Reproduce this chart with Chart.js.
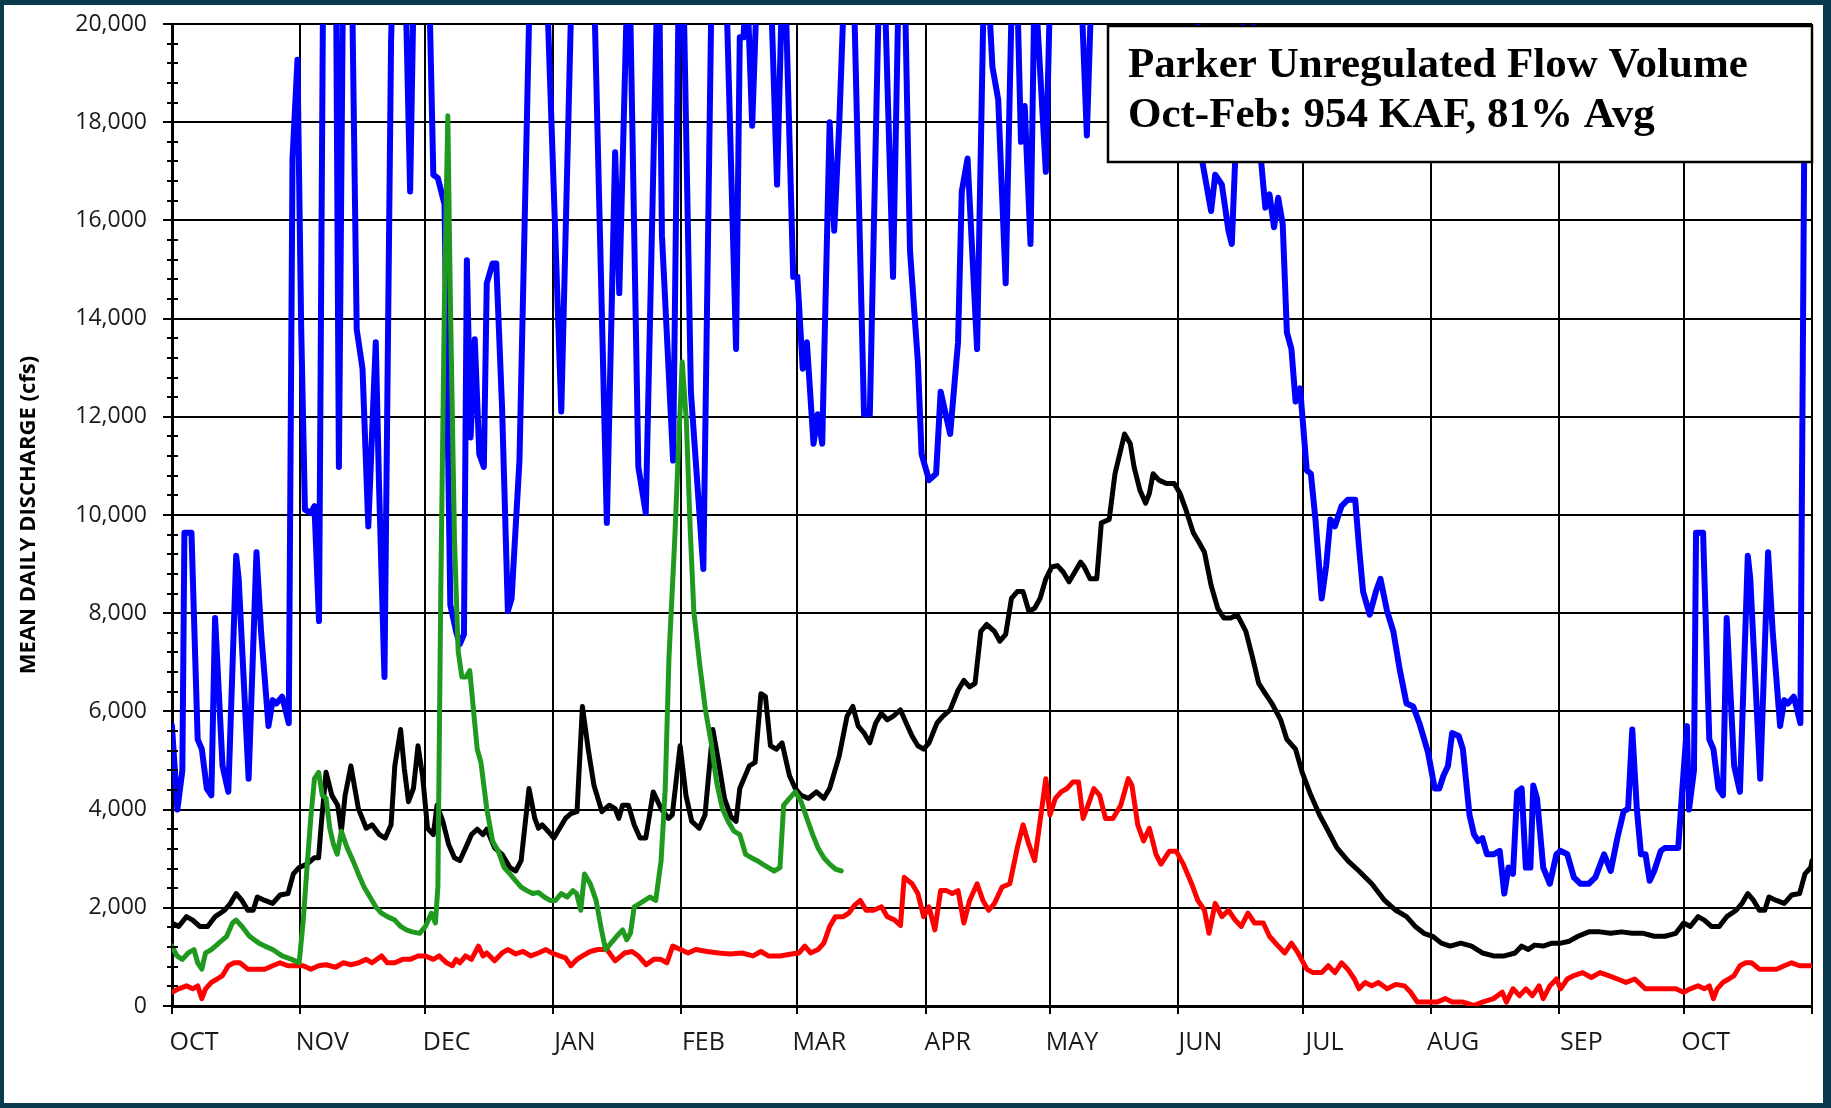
<!DOCTYPE html>
<html>
<head>
<meta charset="utf-8">
<title>Parker Unregulated Flow</title>
<script src="https://cdn.jsdelivr.net/npm/chart.js@4/dist/chart.umd.min.js"></script>
<style>
  html, body { margin: 0; padding: 0; background: #0b3a4e; overflow: hidden; }
  #panel { position: absolute; left: 4px; top: 5px; width: 1819px; height: 1098px; background: #fff; }
  #chart { position: absolute; left: 0; top: 0; }
</style>
</head>
<body>
<div id="panel"></div>
<canvas id="chart" width="1831" height="1108"></canvas>
<script>
// x = days since Oct 1, y = mean daily discharge (cfs)
const monthStarts = [0, 31, 61, 92, 123, 151, 182, 212, 243, 273, 304, 335, 365, 396];
const monthLabels = ['OCT', 'NOV', 'DEC', 'JAN', 'FEB', 'MAR', 'APR', 'MAY', 'JUN', 'JUL', 'AUG', 'SEP', 'OCT', ''];

// blue: maximum of record
const maxDay = [0, 1.3, 2.5, 3, 4.7, 6.2, 7.2, 8.4, 9.5, 10.4, 12.2, 13.6, 15.5, 16.1, 18.5, 20.4, 21.5, 23.3, 24.3, 25.2, 26.6, 27.2, 28.2, 29.1, 30.3,
  31.2, 32.1, 33.5, 34.4, 35.5, 36.8, 38.2, 39.4, 40.3, 41.6, 42.8, 44.6, 46, 47.4, 49.2, 50, 51.3, 52.9, 55, 57.5, 58.4, 60.5, 63.1, 64.2, 65.8,
  67.2, 68.6, 69.5, 70.5, 71.2, 72.1, 73.1, 74.2, 75.3, 76, 77.4, 78.3, 79.7, 81.1, 82, 83.9, 88, 94, 98, 101, 105, 107, 108, 110.3, 112.6, 114.4,
  117.5, 118.3, 121, 122.8, 125.3, 128.3, 131.5, 136.2, 137.1, 138, 138.8, 140.1, 143, 146.1, 147.7, 150, 151, 152.3, 153.3, 154.9, 155.9, 157,
  158.8, 159.9, 161.1, 163.7, 167.1, 168.5, 171.3, 174.1, 176.2, 178.2, 180.1, 181, 182.8, 184.5, 185.6, 187.9, 189.8, 190.7, 192.1, 194.4, 196.3,
  198.1, 199.5, 201.3, 203.4, 205, 205.9, 207.3, 208.3, 209.2, 211, 213.5, 215.5, 217.5, 219.4, 220.9, 224, 230, 236, 242, 247, 248.8, 250.9,
  251.9, 253.5, 255.1, 255.9, 256.7, 258, 260, 262, 263, 264, 265, 266.1, 267.1, 268.2, 269.2, 270.3, 271.3, 272.4, 274, 275, 276.1, 277.6,
  278.7, 279.7, 280.8, 282.4, 283.9, 285.7, 286.6, 287.6, 289.2, 290.7, 291.8, 293.4, 294.9, 296.5, 298.1, 299.7, 301.2, 303.3, 304.9, 306, 307,
  308.1, 309.1, 310.7, 311.7, 313.3, 314.4, 315.4, 316.4, 317.5, 319.1, 320.6, 321.7, 322.7, 323.8, 324.8, 325.9, 326.9, 328, 328.7, 329.6, 331.1,
  332.7, 334.3, 335.3, 336.9, 338.5, 340.1, 342.1, 343.7, 345.8, 347.4, 349, 350.5, 351.6, 352.6, 353.7, 354.7, 355.8, 356.8, 357.9, 359.5, 360.5,
  363.7, 364.7, 365.8, 366.3, 367.5, 368, 369.7, 371.2, 372.2, 373.4, 374.5, 375.4, 377.2, 378.6, 380.5, 381.1, 383.5, 385.4, 386.5, 388.3, 389.3,
  390.2, 391.6, 392.2, 393.2, 394.1, 395.4];
const maxCfs = [5700, 4000, 4800, 9640, 9640, 5430, 5230, 4430, 4290, 7900, 4890, 4360, 9170, 8700, 4630, 9240, 7630, 5700, 6230, 6160, 6300, 6100, 5760, 17260, 19270,
  13780, 10110, 10040, 10180, 7840, 25000, 23000, 24000, 10980, 24000, 25000, 13780, 12980, 9770, 13520, 10580, 6700, 19670, 26000, 16590, 21000, 27000, 16930, 16860, 16330,
  8170, 7630, 7370, 7570, 15190, 11580, 13580, 11240, 10980, 14720, 15120, 15120, 12180, 8040, 8300, 11110, 27000, 12110, 26000, 24000, 9840, 17390, 14520, 22000, 10980, 10040,
  22000, 15700, 11110, 24000, 12500, 8900, 28000, 13380, 19730, 19730, 21000, 17930, 25000, 16730, 22000, 14850, 14850, 12980, 13520, 11450, 12050, 11450,
  18000, 15790, 17930, 24000, 12050, 12050, 23000, 14850, 24000, 15390, 13120, 11240, 10710, 10840, 12510, 11650, 13520, 16590, 17260, 13380, 22000,
  19130, 18460, 14720, 23000, 17600, 18330, 15520, 21000, 19670, 16990, 26000, 21500, 25000, 21000, 17730, 26000, 28000, 30000, 27000, 22000, 17190, 16190,
  16930, 16730, 15790, 15520, 17190, 19500, 21000, 19000, 17190, 16260, 16530, 15860, 16460, 15920, 13720, 13380, 12310, 12580, 10910, 10840, 9910, 8300,
  8970, 9910, 9770, 10180, 10310, 10310, 9370, 8440, 7970, 8440, 8700, 8040, 7630, 6830, 6160, 6100, 5760, 5160, 4430, 4430, 4690,
  4890, 5560, 5500, 5230, 3890, 3490, 3360, 3420, 3090, 3090, 3160, 2290, 2820, 2690, 4360, 4430, 2820, 2820, 4490, 4230, 2820,
  2490, 3090, 3160, 3090, 2620, 2490, 2490, 2620, 3090, 2750, 3420, 3960, 4020, 5630, 4020, 3090, 3090, 2550, 2750, 3160, 3220,
  3220, 4430, 5700, 4000, 4800, 9640, 9640, 5430, 5230, 4430, 4290, 7900, 4890, 4360, 9170, 8700, 4630, 9240, 7630, 5700, 6230,
  6160, 6300, 6100, 5760, 17260, 19270];

// black: average
const avgDay = [0, 1.6, 3.5, 5, 6.7, 8.6, 10.4, 12.7, 14.1, 15.5, 16.9, 18.3, 19.6, 20.6, 22.4, 24.3, 26.1, 28, 29.3, 30.7, 32.6, 34.4, 35.4, 36.1, 37.2,
  38.6, 40, 40.9, 41.8, 43.2, 45, 46.9, 48.3, 50.1, 51.5, 52.9, 53.8, 55.2, 56.1, 57.1, 58.3, 59.4, 60.5, 61.7, 63.1, 64, 65.4, 66.8, 68.2, 69.5,
  70.9, 72.3, 73.7, 75.1, 76, 77.9, 79.7, 81.6, 83, 84.3, 86.2, 87.6, 88.5, 89.4, 90.8, 92.2, 93.6, 95, 96.3, 97.8, 99.1, 100.5, 101.9, 103.8,
  105.6, 107, 107.9, 108.8, 110.2, 111.6, 113, 114.4, 116.2, 118.1, 119.9, 120.8, 122.7, 124.1, 125.5, 127.3, 128.7, 130.6, 132, 133.4, 135,
  136.2, 137.1, 139.4, 140.8, 142.2, 143.3, 144.5, 145.9, 147.3, 149.1, 150.5, 151.9, 153.7, 155.6, 157.4, 158.8, 161.1, 163, 164.4, 165.7, 167.1,
  168.5, 169.9, 171.3, 172.7, 174.1, 175.9, 177.3, 178.7, 180.1, 181.5, 182.8, 184.7, 186.1, 187.9, 189.8, 191.2, 192.6, 193.9, 195.3, 196.7,
  198.6, 199.9, 201.3, 202.7, 204.1, 205.5, 206.9, 208.3, 209.6, 211, 212.4, 213.8, 215.2, 216.6, 217.5, 219.4, 220.3, 221.7, 223.3, 224.4,
  226.3, 227.7, 230, 231.4, 232.3, 233.7, 235.1, 236, 236.9, 238.3, 240.1, 242, 243.4, 244.8, 246.6, 248, 249.3, 250.9, 252.5, 254, 255.6,
  257.2, 259.3, 260.9, 262.4, 264, 265.6, 267.7, 269.2, 271.3, 272.9, 275, 277.1, 279.2, 281.3, 283.9, 286.6, 289.7, 292.8, 295.5, 298.1,
  300.2, 302.3, 304.4, 306.5, 308.6, 311.2, 313.8, 316.4, 319.1, 321.7, 324.3, 325.9, 327.5, 329, 331.1, 333.2, 335.3, 337.4, 339.5, 342.1,
  344.8, 347.4, 350, 352.6, 355.3, 357.9, 360.5, 363.1, 365, 366.6, 368.5, 370, 371.7, 373.6, 375.4, 377.7, 379.1, 380.5, 381.9, 383.3, 384.6,
  385.6, 387.4, 389.3, 391.1, 393, 394.3, 395.7, 396];
const avgCfs = [1690, 1620, 1820, 1750, 1620, 1620, 1820, 1950, 2090, 2290, 2150, 1950, 1950, 2220, 2150, 2090, 2260, 2290, 2690, 2820, 2890, 3020, 3020, 3760, 4760,
  4290, 4090, 3560, 4290, 4890, 4020, 3620, 3690, 3490, 3420, 3690, 4890, 5630, 4830, 4160, 4430, 5300, 4690, 3620, 3490, 4090, 3760, 3290, 3020, 2960,
  3220, 3490, 3600, 3490, 3600, 3220, 3090, 2820, 2750, 2960, 4430, 3820, 3620, 3690, 3560, 3420, 3620, 3820, 3920, 3960, 6100, 5230, 4490, 3960,
  4090, 4020, 3820, 4090, 4090, 3690, 3420, 3420, 4360, 4020, 3820, 3890, 5300, 4290, 3760, 3620, 3890, 5630, 4960, 4230, 3850,
  3760, 4430, 4890, 4960, 6360, 6300, 5300, 5230, 5360, 4690, 4430, 4290, 4230, 4360, 4230, 4430, 5090, 5900, 6100, 5700, 5560,
  5360, 5760, 5960, 5830, 5900, 6030, 5760, 5500, 5300, 5230, 5360, 5760, 5900, 6030, 6430, 6630, 6500, 6570, 7630, 7770,
  7630, 7430, 7570, 8300, 8440, 8440, 8040, 8100, 8300, 8700, 8940, 8970, 8840, 8640, 8770, 9040, 8940, 8700, 8700, 9840,
  9910, 10840, 11650, 11450, 10980, 10510, 10240, 10440, 10840, 10710, 10640, 10640, 10440, 10110, 9640, 9440, 9240, 8570, 8100, 7900, 7900,
  7970, 7630, 7100, 6570, 6360, 6160, 5830, 5430, 5230, 4760, 4290, 3890, 3560, 3220, 2960, 2750, 2490, 2150, 1950, 1820,
  1620, 1480, 1420, 1280, 1220, 1280, 1220, 1080, 1020, 1020, 1080, 1220, 1150, 1240, 1220, 1280, 1280, 1320, 1420, 1510,
  1510, 1480, 1510, 1480, 1480, 1420, 1420, 1480, 1690, 1620, 1820, 1750, 1620, 1620, 1820, 1950, 2090, 2290, 2150, 1950, 1950,
  2220, 2150, 2090, 2260, 2290, 2690, 2820, 2960];

// red: minimum of record
const minDay = [0, 1.6, 3.5, 5, 6.2, 7.2, 8.1, 9.5, 10.9, 12.2, 13.6, 15, 16.4, 18.3, 20.1, 22.4, 24.3, 26.1, 28, 29.8, 31.7, 33.5, 35.4, 37.2, 39.5,
  41.4, 43.2, 45.1, 46.9, 48.3, 50.6, 52, 53.8, 55.7, 57.5, 59.4, 61.2, 63.1, 64.5, 66.3, 67.7, 68.6, 69.5, 70.9, 72.3, 74, 75.1, 76, 77.9, 79.7,
  81.1, 83, 84.8, 86.6, 88.5, 90.3, 91.7, 93.6, 95, 96.3, 97.8, 99.1, 101, 102.8, 105, 107, 109.3, 111.1, 112.6, 114.5, 116.3, 118, 119.5, 120.9,
  122.8, 124.6, 126.5, 129.2, 132, 134.8, 137.6, 140.3, 142.2, 144, 146.8, 149.6, 151.4, 152.8, 154.2, 156, 157.4, 158.8, 160.2, 162.1, 163.4,
  164.8, 166.2, 167.6, 169.4, 171.3, 172.7, 174.5, 175.9, 176.8, 178.7, 180.1, 181.5, 182.8, 184.2, 185.6, 187, 188.4, 189.8, 191.2, 192.6,
  194.4, 195.8, 197.2, 198.6, 200.4, 202.3, 204.1, 205.5, 206.9, 208.3, 209.6, 211, 212, 213.3, 214.7, 216.1, 217.5, 218.9, 220, 221.2, 222.6,
  224, 225.4, 227.2, 229.1, 230.9, 231.8, 233.2, 234.6, 236, 237.6, 238.8, 240.8, 242.5, 244.2, 246.2, 247.7, 249.3, 250.4, 251.9, 253.5,
  255.1, 256.7, 258.2, 259.8, 261.4, 263.5, 265, 267.1, 268.7, 270.3, 271.9, 274, 275.5, 277.6, 279.2, 280.8, 282.4, 283.9, 285.5, 286.6,
  288.1, 289.7, 291.3, 293.4, 295.5, 297.6, 299.1, 300.7, 303.3, 305.4, 307.5, 309.1, 311.7, 314.4, 316.4, 319.1, 321.2, 322.2, 323.8, 325.4,
  326.9, 328.5, 330.1, 331.1, 332.7, 334.3, 335.3, 336.9, 338.5, 340.6, 342.7, 344.8, 346.9, 349, 351.1, 353.2, 355.8, 357.9, 360.5, 363.1,
  365, 366.6, 368.5, 370, 371.2, 372.2, 373.1, 374.5, 375.9, 377.2, 378.6, 380, 381.4, 383.3, 385.1, 387.4, 389.3, 391.1, 393, 394.8, 396];
const minCfs = [280, 350, 410, 350, 410, 150, 350, 480, 550, 620, 820, 880, 880, 750, 750, 750, 820, 880, 820, 820, 820, 750, 820, 840, 790,
  880, 840, 880, 950, 880, 1020, 880, 880, 950, 950, 1020, 1020, 950, 1020, 880, 820, 950, 880, 1020, 950, 1220, 1020, 1080, 920, 1080,
  1150, 1060, 1110, 1020, 1080, 1150, 1080, 1020, 980, 820, 950, 1020, 1110, 1150, 1150, 920, 1080, 1110, 1020, 840, 950, 950, 880, 1220,
  1150, 1080, 1150, 1110, 1080, 1060, 1080, 1020, 1110, 1020, 1020, 1060, 1080, 1220, 1080, 1150, 1280, 1620, 1820, 1820, 1890,
  2050, 2150, 1950, 1950, 2020, 1820, 1750, 1640, 2620, 2490, 2290, 1820, 2020, 1550, 2350, 2350, 2290, 2350, 1690, 2150,
  2490, 2150, 1950, 2090, 2420, 2490, 3220, 3690, 3290, 2960, 3760, 4630, 3890, 4230, 4360, 4430, 4560, 4560, 3820, 4090, 4430,
  4290, 3820, 3820, 4090, 4630, 4490, 3690, 3360, 3620, 3090, 2890, 3150, 3150, 2890, 2490, 2150, 1950, 1480, 2090, 1820,
  1950, 1750, 1620, 1890, 1690, 1690, 1420, 1220, 1080, 1280, 1080, 750, 680, 680, 820, 680, 880, 750, 550, 350,
  480, 410, 480, 350, 440, 410, 280, 80, 80, 80, 150, 80, 80, 10, 80, 150, 280, 80, 350, 210,
  350, 210, 410, 150, 410, 550, 350, 550, 620, 680, 580, 680, 620, 550, 480, 550, 350, 350, 350, 350,
  280, 350, 410, 350, 410, 150, 350, 480, 550, 620, 820, 880, 880, 750, 750, 750, 820, 880, 820, 820, 820];

// green: current water year (through early March)
const curDay = [0, 1.2, 2.5, 3.9, 5.3, 6.2, 7.2, 8.1, 9.5, 11.3, 13.2, 14.6, 15.5, 16.9, 18.7, 21, 22.4, 24.3, 26.6, 28.9, 30.7, 31.7, 32.6, 33.5, 34.4,
  35.4, 36.3, 37.2, 38.1, 39, 39.9, 40.9, 42.3, 43.7, 45, 46.4, 47.8, 49.2, 50.6, 52, 53.8, 55.2, 56.6, 58, 59.8, 61.2, 62.6, 63.6, 64.2, 64.9,
  65.8, 66.6, 67.2, 68.2, 69.1, 70, 71, 71.9, 72.8, 73.7, 74.6, 76, 77.4, 78.8, 80.2, 81.6, 83, 84.3, 85.7, 87.1, 88.5, 89.9, 91.3, 92.6, 94,
  95.4, 96.8, 97.7, 98.7, 99.6, 101, 102.4, 103.7, 104.7, 106, 107.4, 108.8, 109.8, 110.7, 111.6, 113, 115.4, 116.8, 118.1, 119.1, 120, 121.4,
  122.3, 123.2, 124.2, 125.1, 126, 127.4, 128.8, 130.2, 131.5, 132.9, 134.3, 135.7, 137.1, 138.5, 139.9, 141.3, 142.6, 144, 145.4, 146.8,
  147.7, 149.1, 150.5, 151.9, 153.3, 154.7, 156, 157.4, 158.8, 160.2, 161.6];
const curCfs = [1220, 1020, 950, 1080, 1150, 880, 750, 1080, 1150, 1280, 1420, 1690, 1750, 1620, 1420, 1280, 1220, 1150, 1020, 950, 880, 1750, 2820, 3820, 4630,
  4760, 4290, 4230, 3620, 3290, 3090, 3560, 3220, 2960, 2690, 2420, 2220, 2020, 1890, 1820, 1750, 1620, 1550, 1510, 1480, 1620, 1890, 1690, 2420, 8440,
  14450, 18130, 14450, 9510, 7230, 6700, 6700, 6830, 6030, 5230, 4960, 4020, 3360, 3150, 2820, 2690, 2550, 2420, 2350, 2290, 2310, 2220, 2150, 2150, 2290,
  2220, 2350, 2290, 1950, 2690, 2490, 2150, 1550, 1150, 1280, 1420, 1550, 1350, 1480, 2020, 2090, 2220, 2150, 2960, 4430, 7100, 9510,
  11380, 13120, 11910, 9770, 8040, 6970, 6030, 5360, 4560, 4020, 3760, 3560, 3490, 3090, 3020, 2960, 2890, 2820, 2750, 2820,
  4090, 4230, 4360, 4160, 3820, 3490, 3220, 3020, 2890, 2790, 2750];

const toPoints = (days, cfs) => days.map((d, i) => ({ x: d, y: cfs[i] }));

// minor tick marks on the value axis, crossing the axis line
const axisMarks = {
  id: 'axisMarks',
  afterDraw(chart) {
    const y = chart.scales.y;
    const ctx = chart.ctx;
    ctx.save();
    ctx.strokeStyle = '#000';
    ctx.lineWidth = 2;
    y.ticks.forEach(t => {
      const py = Math.round(y.getPixelForValue(t.value));
      ctx.beginPath();
      if (t.value % 2000 === 0) {
        ctx.moveTo(y.right - 9, py);
        ctx.lineTo(y.right, py);
      } else {
        ctx.moveTo(y.right - 5, py);
        ctx.lineTo(y.right + 6, py);
      }
      ctx.stroke();
    });
    ctx.restore();
  }
};

// text box in the top right corner
const volumeBox = {
  id: 'volumeBox',
  afterDraw(chart) {
    const ctx = chart.ctx;
    ctx.save();
    ctx.fillStyle = '#fff';
    ctx.fillRect(1108, 26, 704, 136);
    ctx.strokeStyle = '#000';
    ctx.lineWidth = 2.5;
    ctx.strokeRect(1108, 26, 704, 136);
    ctx.fillStyle = '#000';
    ctx.font = 'bold 43px "Liberation Serif", "Times New Roman", serif';
    ctx.textBaseline = 'alphabetic';
    ctx.fillText('Parker Unregulated Flow Volume', 1128, 77);
    ctx.fillText('Oct-Feb: 954 KAF, 81% Avg', 1128, 127);
    ctx.restore();
  }
};

Chart.defaults.font.family = '"Open Sans", sans-serif';
Chart.defaults.color = '#1a1a1a';

new Chart(document.getElementById('chart'), {
  type: 'line',
  data: {
    datasets: [{
      data: toPoints(curDay, curCfs),
      borderColor: '#1f9a1f',
      borderWidth: 5
    }, {
      data: toPoints(avgDay, avgCfs),
      borderColor: '#000000',
      borderWidth: 5
    }, {
      data: toPoints(minDay, minCfs),
      borderColor: '#ff0000',
      borderWidth: 5
    }, {
      data: toPoints(maxDay, maxCfs),
      borderColor: '#0000ff',
      borderWidth: 6
    }]
  },
  options: {
    responsive: false,
    animation: false,
    devicePixelRatio: 1,
    parsing: false,
    elements: {
      point: { radius: 0 },
      line: { tension: 0, borderJoinStyle: 'round', borderCapStyle: 'round', fill: false }
    },
    datasets: { line: { clip: 0 } },
    layout: { padding: { left: 16, top: 24, right: 19, bottom: 0 } },
    plugins: {
      legend: { display: false },
      tooltip: { enabled: false }
    },
    scales: {
      x: {
        type: 'linear',
        min: 0,
        max: 396,
        afterBuildTicks: scale => {
          scale.ticks = monthStarts.map(v => ({ value: v }));
        },
        afterFit: scale => { scale.height = 102; },
        ticks: {
          autoSkip: false,
          maxRotation: 0,
          labelOffset: 22,
          padding: 14,
          font: { size: 25 },
          callback: (value, index) => monthLabels[index]
        },
        grid: {
          color: '#000',
          lineWidth: 2,
          drawTicks: true,
          tickLength: 8,
          tickColor: '#000',
          tickWidth: 2
        },
        border: { color: '#000', width: 3 }
      },
      y: {
        min: 0,
        max: 20000,
        afterFit: scale => { scale.width = 156; },
        ticks: {
          stepSize: 400,
          autoSkip: false,
          padding: 0,
          font: { size: 23 },
          callback: v => (v % 2000 === 0 ? v.toLocaleString('en-US') : '')
        },
        grid: {
          drawTicks: true,
          tickLength: 25,
          tickColor: 'rgba(0,0,0,0)',
          lineWidth: 2,
          color: ctx => (ctx.tick && ctx.tick.value % 2000 === 0 ? '#000' : 'rgba(0,0,0,0)')
        },
        border: { color: '#000', width: 3 },
        title: {
          display: true,
          text: 'MEAN DAILY DISCHARGE (cfs)',
          color: '#000',
          padding: { top: 0, bottom: 0 },
          font: { size: 22, weight: 'bold' }
        }
      }
    }
  },
  plugins: [axisMarks, volumeBox]
});
</script>
</body>
</html>
